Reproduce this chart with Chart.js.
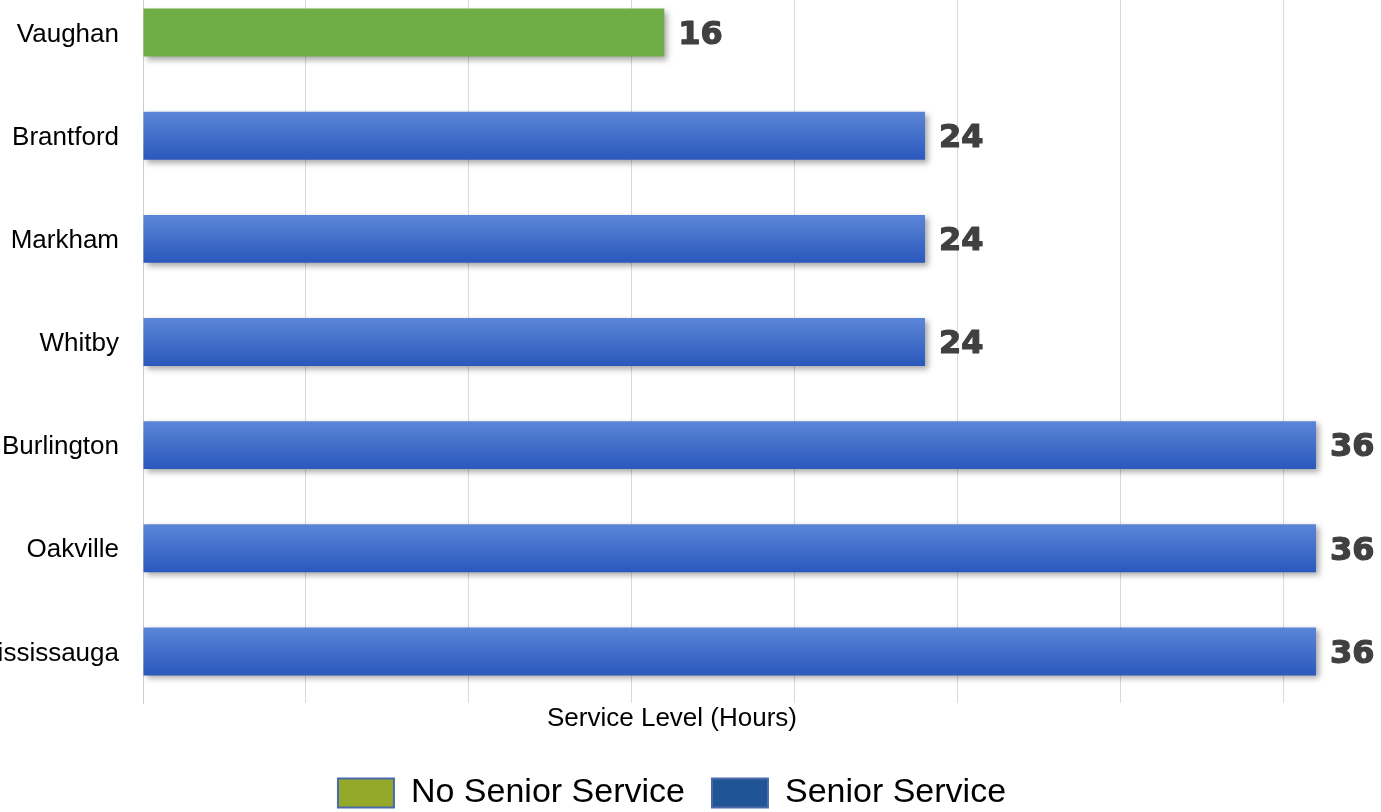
<!DOCTYPE html>
<html>
<head>
<meta charset="utf-8">
<script src="https://cdn.jsdelivr.net/npm/chart.js@4"></script>
<style>
    html, body { margin: 0; padding: 0; background: #ffffff; overflow: hidden; width: 1381px; height: 812px; }
    #chartBox { position: absolute; left: 0; top: -19px; width: 1381px; height: 839px; }
</style>
</head>
<body>
<div id="chartBox"><canvas id="serviceChart" width="1381" height="839"></canvas></div>
<script>
// data
const cities = ['Vaughan', 'Brantford', 'Markham', 'Whitby', 'Burlington', 'Oakville', 'Mississauga'];
const hours = [16, 24, 24, 24, 36, 36, 36];
const hasSeniorService = [false, true, true, true, true, true, true];
const legendNames = ['No Senior Service', 'Senior Service'];
const axisTitle = 'Service Level (Hours)';
const gridStep = 5;

const font = '"Liberation Sans", Arial, sans-serif';

const colors = {
    green: '#70ad47',
    blueTop: '#5b86d8',
    blueBottom: '#2a58bc',
    legendGreen: '#94a829',
    legendBlue: '#1f5597',
    legendEdge: '#4a6aab',
    grid: '#d9d9d9',
    label: '#404040'
};

// soft drop shadow under the bars
const barShadow = {
    id: 'barShadow',
    beforeDatasetDraw(chart) {
        const ctx = chart.ctx;
        ctx.save();
        ctx.shadowColor = 'rgba(0,0,0,0.35)';
        ctx.shadowBlur = 6;
        ctx.shadowOffsetX = 3;
        ctx.shadowOffsetY = 3;
    },
    afterDatasetDraw(chart) {
        chart.ctx.restore();
    }
};

// big value labels at the end of each bar
const valueLabels = {
    id: 'valueLabels',
    afterDatasetsDraw(chart) {
        const ctx = chart.ctx;
        const meta = chart.getDatasetMeta(0);
        ctx.save();
        ctx.font = 'bold 32px "DejaVu Sans", sans-serif';
        ctx.fillStyle = colors.label;
        ctx.strokeStyle = colors.label;
        ctx.lineWidth = 1.2;
        ctx.lineJoin = 'round';
        ctx.textAlign = 'left';
        ctx.textBaseline = 'middle';
        meta.data.forEach(function(bar, i) {
            ctx.fillText(String(hours[i]), bar.x + 14, bar.y + 3);
            ctx.strokeText(String(hours[i]), bar.x + 14, bar.y + 3);
        });
        ctx.restore();
    }
};

function barColor(context) {
    const i = context.dataIndex;
    if (!hasSeniorService[i]) return colors.green;
    const chart = context.chart;
    const yScale = chart.scales.y;
    if (!chart.chartArea || !yScale) return colors.blueBottom;
    const cy = yScale.getPixelForValue(i);
    const g = chart.ctx.createLinearGradient(0, cy - 24, 0, cy + 24);
    g.addColorStop(0, colors.blueTop);
    g.addColorStop(1, colors.blueBottom);
    return g;
}

new Chart(document.getElementById('serviceChart').getContext('2d'), {
    type: 'bar',
    data: {
        labels: cities,
        datasets: [{
            data: hours,
            backgroundColor: barColor,
            borderWidth: 0,
            categoryPercentage: 1,
            barPercentage: 0.465
        }]
    },
    plugins: [barShadow, valueLabels],
    options: {
        indexAxis: 'y',
        responsive: false,
        animation: false,
        events: [],
        layout: { padding: { left: 0, right: 37, top: 0, bottom: 0 } },
        scales: {
            x: {
                min: 0,
                max: 36.86,
                ticks: { display: false, stepSize: gridStep },
                afterBuildTicks: function(scale) {
                    scale.ticks = scale.ticks.filter(t => t.value % gridStep === 0);
                },
                afterFit: function(scale) {
                    scale.height = 0;
                    scale.paddingLeft = 0;
                    scale.paddingRight = 0;
                },
                grid: { color: colors.grid, lineWidth: 1, drawTicks: false },
                border: { display: false }
            },
            y: {
                afterFit: function(scale) {
                    scale.width = 143;
                    scale.paddingTop = 0;
                    scale.paddingBottom = 0;
                },
                grid: { display: false, drawTicks: false },
                border: { display: true, color: '#cfcfcf', width: 1 },
                ticks: {
                    color: '#000000',
                    padding: 24,
                    labelOffset: 2,
                    font: { family: font, size: 26 }
                }
            }
        },
        plugins: {
            tooltip: { enabled: false },
            title: {
                display: true,
                position: 'bottom',
                text: axisTitle,
                color: '#000000',
                weight: 500,
                font: { family: font, size: 26, weight: 'normal', lineHeight: 1 },
                padding: { top: 3, bottom: 17 }
            },
            legend: {
                display: true,
                position: 'bottom',
                onClick: null,
                labels: {
                    boxWidth: 56,
                    boxHeight: 29,
                    padding: 27,
                    color: '#000000',
                    font: { family: font, size: 34 },
                    generateLabels: function() {
                        return [
                            { text: legendNames[0], fillStyle: colors.legendGreen, strokeStyle: colors.legendEdge, lineWidth: 2, hidden: false, datasetIndex: 0 },
                            { text: legendNames[1], fillStyle: colors.legendBlue, strokeStyle: colors.legendEdge, lineWidth: 2, hidden: false, datasetIndex: 0 }
                        ];
                    }
                }
            }
        }
    }
});
</script>
</body>
</html>
